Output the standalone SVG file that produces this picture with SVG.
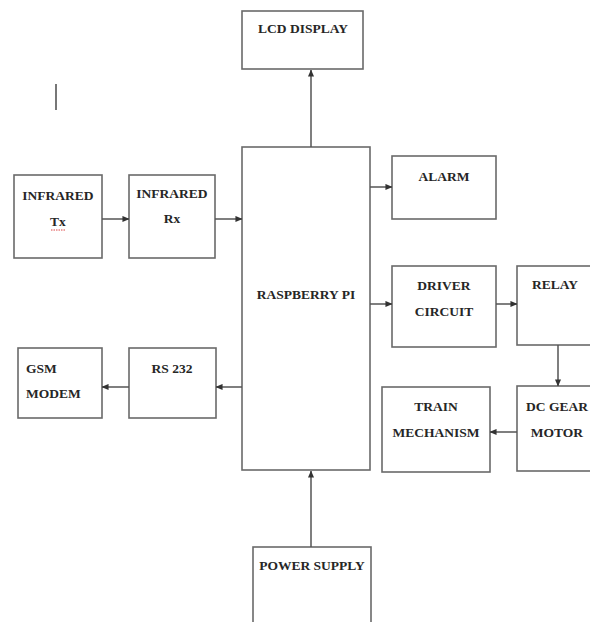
<svg xmlns="http://www.w3.org/2000/svg" width="590" height="622" viewBox="0 0 590 622">
<style>
.box{fill:#fff;stroke:#6a6a6a;stroke-width:1.6}
.t{font-family:"Liberation Serif","Times New Roman",serif;font-weight:bold;font-size:13.5px;fill:#262626}
.c{text-anchor:middle}
.con{stroke:#555;stroke-width:1.5;fill:none}
</style>
<defs>
<marker id="ah" viewBox="0 0 8 8" refX="7.5" refY="4" markerWidth="7" markerHeight="7" markerUnits="userSpaceOnUse" orient="auto">
<path d="M0,0.5 L8,4 L0,7.5 Z" fill="#333"/>
</marker>
</defs>
<rect width="590" height="622" fill="#fff"/>
<line x1="56" y1="84" x2="56" y2="110" stroke="#777" stroke-width="2"/>
<g id="lcd"><rect class="box" x="242" y="11" width="121" height="58"/><text class="t c" x="303" y="33">LCD DISPLAY</text></g>
<g id="rpi"><rect class="box" x="242" y="147" width="128" height="323"/><text class="t c" x="306" y="299">RASPBERRY PI</text></g>
<g id="irtx"><rect class="box" x="14" y="175" width="88" height="83"/><text class="t c" x="58" y="200">INFRARED</text><text class="t c" x="58" y="226">Tx</text><line x1="51" y1="230" x2="65" y2="230" stroke="#d44" stroke-width="1" stroke-dasharray="1.5,1"/></g>
<g id="irrx"><rect class="box" x="129" y="175" width="86" height="83"/><text class="t c" x="172" y="198">INFRARED</text><text class="t c" x="172" y="223">Rx</text></g>
<g id="alarm"><rect class="box" x="392" y="156" width="104" height="63"/><text class="t c" x="444" y="181">ALARM</text></g>
<g id="driver"><rect class="box" x="392" y="266" width="104" height="81"/><text class="t c" x="444" y="290">DRIVER</text><text class="t c" x="444" y="316">CIRCUIT</text></g>
<g id="relay"><rect class="box" x="517" y="266" width="80" height="79"/><text class="t c" x="555" y="289">RELAY</text></g>
<g id="dcmotor"><rect class="box" x="517" y="386" width="80" height="85"/><text class="t c" x="557" y="411">DC GEAR</text><text class="t c" x="557" y="437">MOTOR</text></g>
<g id="train"><rect class="box" x="382" y="387" width="108" height="85"/><text class="t c" x="436" y="411">TRAIN</text><text class="t c" x="436" y="437">MECHANISM</text></g>
<g id="gsm"><rect class="box" x="18" y="348" width="84" height="70"/><text class="t" x="26" y="373">GSM</text><text class="t" x="26" y="398">MODEM</text></g>
<g id="rs232"><rect class="box" x="129" y="348" width="87" height="70"/><text class="t c" x="172" y="373">RS 232</text></g>
<g id="power"><rect class="box" x="253" y="547" width="118" height="76"/><text class="t c" x="312" y="570">POWER SUPPLY</text></g>
<g id="connectors">
<line class="con" x1="311" y1="147" x2="311" y2="70" marker-end="url(#ah)"/>
<line class="con" x1="102" y1="219" x2="129" y2="219" marker-end="url(#ah)"/>
<line class="con" x1="215" y1="219" x2="242" y2="219" marker-end="url(#ah)"/>
<line class="con" x1="370" y1="187" x2="392" y2="187" marker-end="url(#ah)"/>
<line class="con" x1="370" y1="304" x2="392" y2="304" marker-end="url(#ah)"/>
<line class="con" x1="496" y1="304" x2="517" y2="304" marker-end="url(#ah)"/>
<line class="con" x1="558" y1="345" x2="558" y2="386" marker-end="url(#ah)"/>
<line class="con" x1="517" y1="432" x2="490" y2="432" marker-end="url(#ah)"/>
<line class="con" x1="242" y1="387" x2="216" y2="387" marker-end="url(#ah)"/>
<line class="con" x1="129" y1="387" x2="102" y2="387" marker-end="url(#ah)"/>
<line class="con" x1="311" y1="547" x2="311" y2="471" marker-end="url(#ah)"/>
</g>
</svg>
